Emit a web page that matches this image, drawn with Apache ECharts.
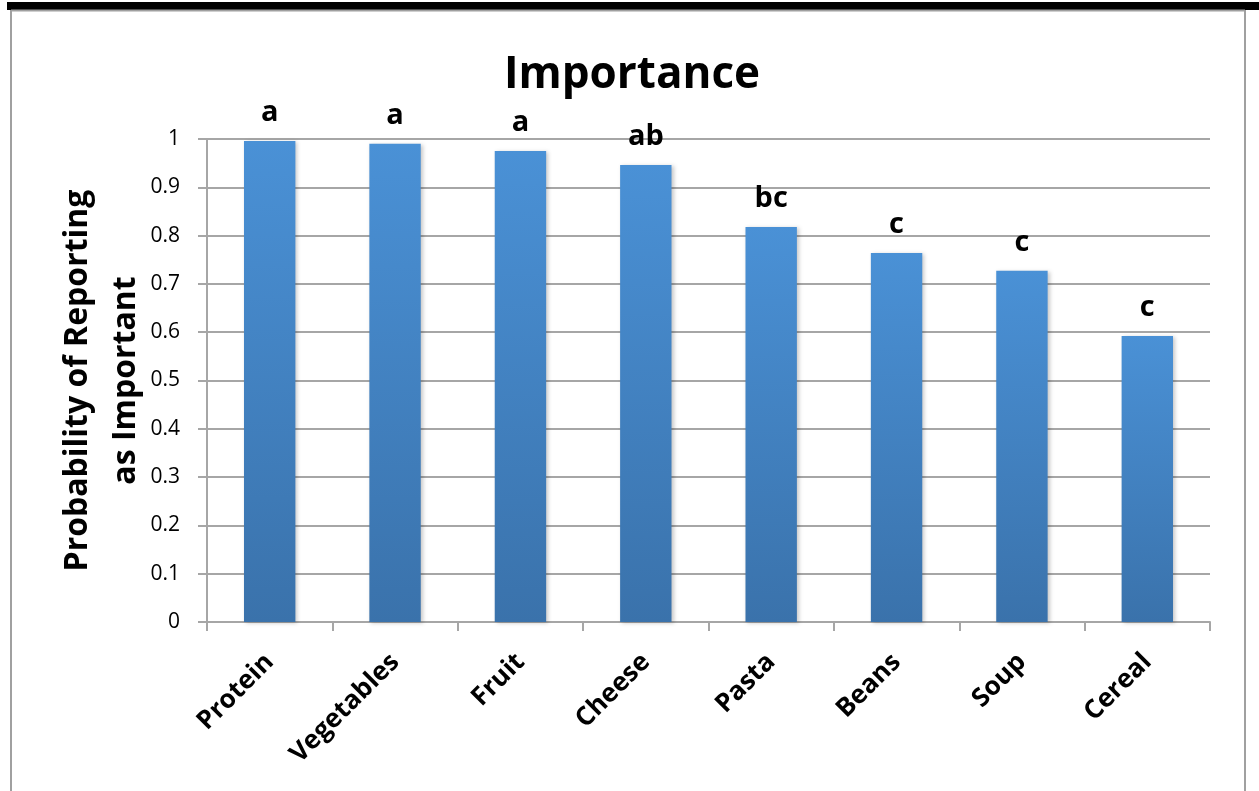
<!DOCTYPE html>
<html>
<head>
<meta charset="utf-8">
<script src="https://cdn.jsdelivr.net/npm/echarts@6/dist/echarts.min.js"></script>
<style>
  html, body { margin: 0; padding: 0; background: #ffffff; }
  #chart { width: 1259px; height: 791px; }
</style>
</head>
<body>
<div id="chart"></div>
<script>
// Food categories and the probability each is reported as important
const categories = ['Protein', 'Vegetables', 'Fruit', 'Cheese', 'Pasta', 'Beans', 'Soup', 'Cereal'];
const probabilities = [0.996, 0.990, 0.975, 0.946, 0.818, 0.764, 0.727, 0.592];
// Significance grouping letters shown above each bar
const groupLetters = ['a', 'a', 'a', 'ab', 'bc', 'c', 'c', 'c'];

const FONT = '"Open Sans", "Noto Sans", sans-serif';
const chart = echarts.init(document.getElementById('chart'), null, { renderer: 'canvas' });

chart.setOption({
  backgroundColor: '#ffffff',
  animation: false,
  title: {
    text: 'Importance',
    left: 627,
    textAlign: 'center',
    top: 48,
    textStyle: { fontFamily: FONT, fontWeight: 'bold', fontSize: 44, color: '#000000' }
  },
  graphic: [
    // frame around the chart area
    { type: 'rect', shape: { x: 7, y: 2, width: 1252, height: 8 }, style: { fill: '#000000' }, silent: true },
    { type: 'line', shape: { x1: 11, y1: 10.5, x2: 1245, y2: 10.5 }, style: { stroke: '#a0a0a0', lineWidth: 2 }, silent: true },
    { type: 'line', shape: { x1: 11, y1: 10, x2: 11, y2: 791 }, style: { stroke: '#a0a0a0', lineWidth: 2 }, silent: true },
    { type: 'line', shape: { x1: 1245, y1: 10, x2: 1245, y2: 791 }, style: { stroke: '#a0a0a0', lineWidth: 2 }, silent: true }
  ],
  grid: { left: 207, right: 49, top: 139, bottom: 169, containLabel: false },
  xAxis: {
    type: 'category',
    data: categories,
    axisLine: { show: true, lineStyle: { color: '#a6a6a6', width: 2 } },
    axisTick: { show: true, length: 9, alignWithLabel: false, lineStyle: { color: '#a6a6a6', width: 2 } },
    axisLabel: {
      rotate: 45,
      margin: 36,
      interval: 0,
      fontFamily: FONT,
      fontWeight: 'bold',
      fontSize: 26,
      color: '#000000'
    }
  },
  yAxis: {
    type: 'value',
    min: 0,
    max: 1,
    interval: 0.1,
    name: 'Probability of Reporting\nas Important',
    nameLocation: 'middle',
    nameRotate: 90,
    nameGap: 57,
    nameMoveOverlap: false,
    nameTextStyle: { fontFamily: FONT, fontWeight: 'bold', fontSize: 32, lineHeight: 48, color: '#000000', align: 'center' },
    axisLine: { show: true, lineStyle: { color: '#a6a6a6', width: 2 } },
    axisTick: { show: true, length: 9, lineStyle: { color: '#a6a6a6', width: 2 } },
    splitLine: { show: true, lineStyle: { color: '#a6a6a6', width: 2 } },
    axisLabel: {
      margin: 27,
      fontFamily: FONT,
      fontSize: 21,
      color: '#000000',
      formatter: v => String(+v.toFixed(1))
    }
  },
  series: [{
    type: 'bar',
    data: probabilities,
    barCategoryGap: '59%',
    itemStyle: {
      color: new echarts.graphic.LinearGradient(0, 0, 0, 1, [
        { offset: 0, color: '#4a91d6' },
        { offset: 1, color: '#3a72ab' }
      ]),
      shadowColor: 'rgba(0,0,0,0.22)',
      shadowBlur: 4,
      shadowOffsetX: 2,
      shadowOffsetY: 1
    },
    label: {
      show: true,
      position: 'top',
      distance: 14,
      formatter: p => groupLetters[p.dataIndex],
      fontFamily: FONT,
      fontWeight: 'bold',
      fontSize: 29,
      color: '#000000'
    }
  }]
});
</script>
</body>
</html>
